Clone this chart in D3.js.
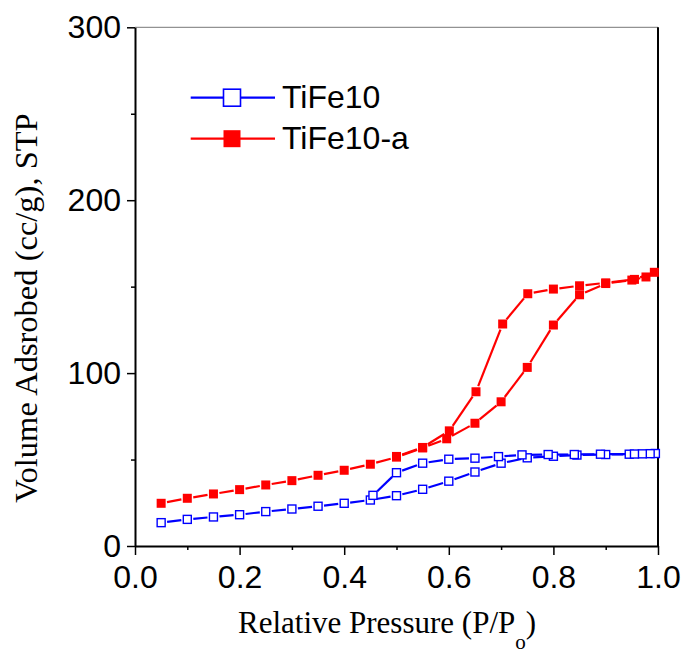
<!DOCTYPE html>
<html lang="en">
<head>
<meta charset="UTF-8">
<title>Isotherm TiFe10</title>
<script src="https://d3js.org/d3.v7.min.js"></script>
<style>
  body { margin: 0; background: #fff; }
  .tick text { font-family: "Liberation Sans", Arial, sans-serif; font-size: 32px; fill: #000; }
  .title { font-family: "Liberation Serif", "Times New Roman", serif; font-size: 31px; fill: #000; }
  .legend text { font-family: "Liberation Sans", Arial, sans-serif; font-size: 32px; fill: #000; }
</style>
</head>
<body>
<svg width="684" height="653"></svg>
<script>
// TiFe10 : adsorption branch then desorption branch
const blueP = [0.05, 0.10, 0.15, 0.20, 0.25, 0.30, 0.35, 0.40, 0.45, 0.50, 0.55, 0.60, 0.65, 0.70, 0.75, 0.80, 0.845, 0.90, 0.945, 0.995,
               0.985, 0.97, 0.955, 0.89, 0.84, 0.79, 0.74, 0.695, 0.65, 0.60, 0.55, 0.50, 0.455];
const blueV = [13.5, 15.4, 16.8, 18.1, 19.9, 21.4, 23.0, 24.7, 26.6, 29.1, 32.8, 37.5, 42.8, 47.9, 51.0, 51.9, 52.6, 52.9, 53.1, 53.5,
               53.4, 53.3, 53.2, 53.1, 52.9, 52.9, 52.7, 51.7, 50.8, 50.2, 47.9, 42.4, 29.3];

// TiFe10-a
const redP = [0.05, 0.10, 0.15, 0.20, 0.25, 0.30, 0.35, 0.40, 0.45, 0.50, 0.55, 0.596, 0.65, 0.70, 0.75, 0.80, 0.85, 0.90, 0.95, 0.977, 0.993,
              0.955, 0.90, 0.85, 0.80, 0.751, 0.703, 0.652, 0.601, 0.55, 0.50];
const redV = [24.7, 27.6, 30.1, 32.6, 35.3, 37.8, 40.9, 43.8, 47.3, 51.4, 56.7, 62.0, 71.0, 83.4, 103.3, 127.8, 145.3, 151.8, 153.8, 155.6, 158.3,
              154.2, 152.2, 150.5, 148.6, 145.9, 128.4, 89.2, 66.6, 57.0, 51.8];

const xMajor = [0, 0.2, 0.4, 0.6, 0.8, 1.0];
const xMinor = [0.1, 0.3, 0.5, 0.7, 0.9];
const yMajor = [0, 100, 200, 300];
const yMinor = [50, 150, 250];

const series = [
  { name: "TiFe10", color: "#0000ff", filled: false, p: blueP, v: blueV },
  { name: "TiFe10-a", color: "#ff0000", filled: true, p: redP, v: redV }
];

const W = 684, H = 653;
const margin = { top: 27.3, right: 26, bottom: 107, left: 135 };
const w = W - margin.left - margin.right;
const h = H - margin.top - margin.bottom;

const svg = d3.select("svg");
const g = svg.append("g").attr("transform", `translate(${margin.left},${margin.top})`);

const x = d3.scaleLinear().domain([0, 1]).range([0, w]);
const y = d3.scaleLinear().domain([0, 300]).range([h, 0]);

// frame: top (thin) and right
g.append("line").attr("x1", 0).attr("x2", w).attr("y1", 0).attr("y2", 0)
  .attr("stroke", "#777").attr("stroke-width", 1);
g.append("line").attr("x1", w).attr("x2", w).attr("y1", 0).attr("y2", h)
  .attr("stroke", "#000").attr("stroke-width", 2);

// minor ticks
g.append("g").attr("transform", `translate(0,${h})`)
  .call(d3.axisBottom(x).tickValues(xMinor).tickSize(4).tickFormat(""))
  .call(a => a.select(".domain").remove())
  .call(a => a.selectAll("line").attr("stroke-width", 1.5));
g.append("g")
  .call(d3.axisLeft(y).tickValues(yMinor).tickSize(4).tickFormat(""))
  .call(a => a.select(".domain").remove())
  .call(a => a.selectAll("line").attr("stroke-width", 1.5));

// major axes
g.append("g").attr("transform", `translate(0,${h})`)
  .call(d3.axisBottom(x).tickValues(xMajor).tickSize(9).tickSizeOuter(0).tickPadding(10).tickFormat(d3.format(".1f")))
  .call(a => a.select(".domain").attr("stroke-width", 2))
  .call(a => a.selectAll("line").attr("stroke-width", 1.5));
g.append("g")
  .call(d3.axisLeft(y).tickValues(yMajor).tickSize(8).tickSizeOuter(0).tickPadding(6).tickFormat(d3.format("d")))
  .call(a => a.select(".domain").attr("stroke-width", 2))
  .call(a => a.selectAll("line").attr("stroke-width", 1.5));

// axis titles
const xt = svg.append("text").attr("class", "title")
  .attr("x", 238).attr("y", 633);
xt.append("tspan").text("Relative Pressure (P/P");
xt.append("tspan").attr("dy", 16).attr("font-size", 21).text("o");
xt.append("tspan").attr("dy", -16).text(")");

svg.append("text").attr("class", "title")
  .attr("transform", "translate(37,308) rotate(-90)")
  .attr("text-anchor", "middle")
  .style("font-size", "32.5px")
  .text("Volume Adsrobed (cc/g), STP");

// data lines with gaps at symbols
const gap = 6;
series.forEach(s => {
  const pts = s.p.map((p, i) => [x(p), y(s.v[i])]);
  const segs = [];
  for (let i = 0; i < pts.length - 1; i++) {
    const [x1, y1] = pts[i], [x2, y2] = pts[i + 1];
    const len = Math.hypot(x2 - x1, y2 - y1);
    if (len <= 2 * gap) continue;
    const ux = (x2 - x1) / len, uy = (y2 - y1) / len;
    segs.push([x1 + ux * gap, y1 + uy * gap, x2 - ux * gap, y2 - uy * gap]);
  }
  g.append("g").selectAll("line").data(segs).join("line")
    .attr("x1", d => d[0]).attr("y1", d => d[1]).attr("x2", d => d[2]).attr("y2", d => d[3])
    .attr("stroke", s.color).attr("stroke-width", 2.2);
  const size = s.filled ? 9 : 8;
  g.append("g").selectAll("rect").data(pts).join("rect")
    .attr("x", d => d[0] - size / 2).attr("y", d => d[1] - size / 2)
    .attr("width", size).attr("height", size)
    .attr("fill", s.filled ? s.color : "#fff")
    .attr("stroke", s.filled ? "none" : s.color)
    .attr("stroke-width", 1.4);
});

// legend
const legend = svg.append("g").attr("class", "legend");
series.forEach((s, i) => {
  const ly = 97.7 + i * 41;
  legend.append("line").attr("x1", 190.7).attr("x2", 275).attr("y1", ly).attr("y2", ly)
    .attr("stroke", s.color).attr("stroke-width", 2.2);
  const size = 17;
  legend.append("rect").attr("x", 232 - size / 2).attr("y", ly - size / 2)
    .attr("width", size).attr("height", size)
    .attr("fill", s.filled ? s.color : "#fff")
    .attr("stroke", s.filled ? "none" : s.color).attr("stroke-width", 1.6);
  legend.append("text").attr("x", 282).attr("y", ly + 10).text(s.name);
});
</script>
</body>
</html>
